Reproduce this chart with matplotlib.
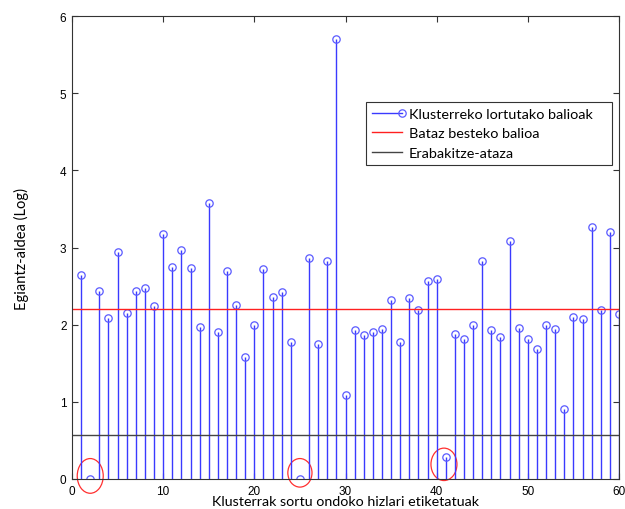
import numpy as np
import matplotlib
matplotlib.use("Agg")
import matplotlib.pyplot as plt
from matplotlib.patches import Ellipse, Rectangle
from matplotlib.lines import Line2D
from matplotlib.legend_handler import HandlerLine2D

# ---- data ----
cluster_ids = list(range(1, 61))
values = [2.65, 0.00, 2.43, 2.09, 2.94, 2.15, 2.44, 2.48, 2.24, 3.18,
          2.75, 2.97, 2.74, 1.97, 3.58, 1.90, 2.69, 2.25, 1.58, 1.99,
          2.72, 2.36, 2.42, 1.77, 0.00, 2.87, 1.75, 2.83, 5.70, 1.09,
          1.93, 1.86, 1.90, 1.94, 2.32, 1.78, 2.34, 2.19, 2.57, 2.59,
          0.29, 1.88, 1.82, 1.99, 2.83, 1.93, 1.84, 3.09, 1.96, 1.82,
          1.68, 2.00, 1.94, 0.91, 2.10, 2.07, 3.26, 2.19, 3.20, 2.14]
mean_value = 2.20
decision_threshold = 0.57

# red hand-drawn ellipses marking the outlier clusters
ellipse_x = [2.0, 25.0, 40.8]
ellipse_y = [0.04, 0.08, 0.19]
ellipse_w = [2.85, 2.65, 2.85]
ellipse_h = [0.45, 0.37, 0.42]

legend_labels = ["Klusterreko lortutako balioak", "Bataz besteko balioa", "Erabakitze-ataza"]
xlabel = "Klusterrak sortu ondoko hizlari etiketatuak"
ylabel = "Egiantz-aldea (Log)"
xticks = [0, 10, 20, 30, 40, 50, 60]
yticks = [0, 1, 2, 3, 4, 5, 6]

# ---- figure ----
fig = plt.figure(figsize=(6.25, 5.1), dpi=100)
ax = fig.add_axes([72/625, 30/510, 547/625, 463/510])

stem_color = "#3a3aff"
ml, sl, bl = ax.stem(cluster_ids, values, basefmt=" ")
plt.setp(sl, color=stem_color, linewidth=1.0)
plt.setp(ml, marker="o", markersize=5.3, markerfacecolor="none",
         markeredgecolor="#5a5aff", markeredgewidth=0.9, linestyle="none")

ax.axhline(mean_value, color="#ff2020", linewidth=1.0)
ax.axhline(decision_threshold, color="#444444", linewidth=1.0)

for ex, ey, ew, eh in zip(ellipse_x, ellipse_y, ellipse_w, ellipse_h):
    ax.add_patch(Ellipse((ex, ey), width=ew, height=eh,
                         fill=False, edgecolor="#ff3030", linewidth=0.9,
                         clip_on=False))

ax.set_xlim(0, 60)
ax.set_ylim(0, 6)
ax.set_xticks(xticks)
ax.set_yticks(yticks)
ax.tick_params(direction="in", top=True, right=True, length=4,
               width=0.8, color="#333333", labelsize=8.5, pad=4)
for lab in ax.get_xticklabels() + ax.get_yticklabels():
    lab.set_fontfamily("Liberation Sans")
for s in ax.spines.values():
    s.set_color("#333333")
    s.set_linewidth(0.8)

ax.set_xlabel(xlabel, fontsize=10.3, family="Lato", labelpad=-1)
ax.set_ylabel(ylabel, fontsize=10.5, family="Lato", labelpad=22)


class EndMarkerHandler(HandlerLine2D):
    def create_artists(self, legend, orig_handle, xdescent, ydescent,
                       width, height, fontsize, trans):
        arts = super().create_artists(legend, orig_handle, xdescent, ydescent,
                                      width, height, fontsize, trans)
        for a in arts:
            if isinstance(a, Line2D) and a.get_markevery() is not None:
                a.set_markevery([2])
        return arts


h1 = Line2D([], [], color=stem_color, linewidth=1.0, marker="o", markersize=5.3,
            markerfacecolor="none", markeredgecolor="#5a5aff", markeredgewidth=0.9)
h2 = Line2D([], [], color="#ff2020", linewidth=1.0)
h3 = Line2D([], [], color="#444444", linewidth=1.0)

# legend frame (MATLAB style, wider than the text)
ax.add_patch(Rectangle((0.5375, 0.678), 0.4495, 0.136, transform=ax.transAxes,
                       facecolor="white", edgecolor="#333333", linewidth=0.8,
                       zorder=4.9))
leg = ax.legend([h1, h2, h3], legend_labels, loc="upper left",
                bbox_to_anchor=(0.5375, 0.814), prop={"family": "Lato", "size": 10.4},
                handlelength=2.1, handletextpad=0.45, labelspacing=0.5,
                borderpad=0.4, borderaxespad=0, frameon=False,
                handler_map={h1: EndMarkerHandler(numpoints=1)})
leg.set_zorder(5)

fig.savefig("out.png", dpi=100)
